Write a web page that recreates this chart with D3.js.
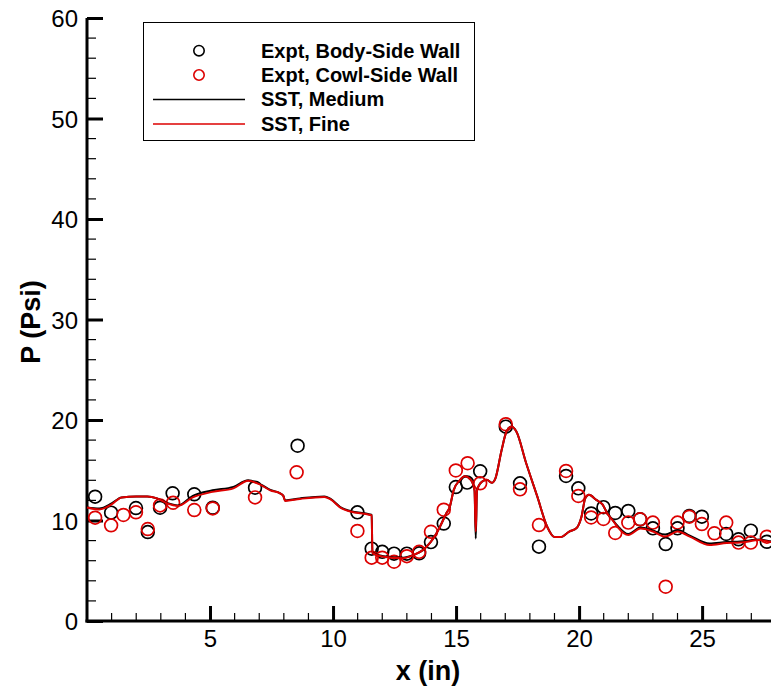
<!DOCTYPE html>
<html>
<head>
<meta charset="utf-8">
<script src="https://cdn.jsdelivr.net/npm/d3@7"></script>
<style>
  html, body { margin: 0; padding: 0; background: #fff; }
  svg { display: block; font-family: 'Liberation Sans', Arial, Helvetica, sans-serif; }
</style>
</head>
<body>
<script>
'use strict';

// 実験値 (Body-Side Wall)
const bodyX = [0.33, 0.98, 1.99, 2.47, 2.97, 3.48, 4.36, 5.11, 6.83, 8.56, 10.99, 11.57, 12.0, 12.48, 13.0, 13.5, 13.98, 14.5, 14.99, 15.45, 15.98, 17.02, 17.6, 18.37, 19.47, 19.97, 20.49, 20.99, 21.47, 22.0, 22.48, 23.0, 23.52, 24.0, 24.48, 24.99, 25.98, 26.48, 26.98, 27.63];
const bodyP = [12.37, 10.78, 11.24, 8.85, 11.27, 12.71, 12.61, 11.27, 13.26, 17.44, 10.81, 7.2, 6.88, 6.7, 6.7, 6.73, 7.85, 9.7, 13.33, 13.77, 14.9, 19.34, 13.7, 7.4, 14.43, 13.2, 10.7, 11.33, 10.75, 10.95, 10.12, 9.22, 7.66, 9.22, 10.45, 10.38, 8.66, 8.13, 8.99, 7.89];

// 実験値 (Cowl-Side Wall)
const cowlX = [0.33, 0.98, 1.48, 1.99, 2.47, 2.97, 3.5, 4.36, 5.11, 6.83, 8.52, 10.99, 11.57, 12.0, 12.48, 13.0, 13.5, 13.98, 14.5, 14.99, 15.47, 15.98, 17.02, 17.6, 18.37, 19.47, 19.97, 20.49, 20.99, 21.47, 22.0, 22.48, 23.0, 23.52, 24.0, 24.48, 24.99, 25.5, 25.98, 26.48, 26.98, 27.63];
const cowlP = [10.28, 9.52, 10.55, 10.82, 9.15, 11.5, 11.77, 11.04, 11.2, 12.3, 14.8, 8.96, 6.3, 6.3, 5.9, 6.45, 6.88, 8.88, 11.07, 14.98, 15.7, 13.7, 19.58, 13.1, 9.55, 14.93, 12.44, 10.3, 10.15, 8.76, 9.79, 10.12, 9.79, 3.41, 9.79, 10.38, 9.65, 8.73, 9.79, 7.8, 7.8, 8.39];

// SST 計算結果
const mediumX = [0.0, 0.5, 1.0, 1.4, 2.0, 2.45, 2.85, 3.25, 3.7, 4.3, 5.1, 5.95, 6.55, 7.05, 7.45, 7.85, 7.98, 8.05, 8.65, 9.65, 9.9, 10.35, 10.7, 11.5, 11.57, 11.6, 12.05, 12.85, 13.25, 13.65, 14.2, 14.35, 14.6, 14.75, 14.9, 15.15, 15.35, 15.6, 15.75, 15.8, 15.85, 16.05, 16.25, 16.45, 16.6, 16.85, 17.05, 17.25, 17.45, 17.85, 18.3, 18.7, 19.0, 19.25, 19.6, 19.9, 20.1, 20.25, 20.4, 20.7, 20.95, 21.15, 21.4, 21.55, 22.0, 22.5, 23.0, 23.5, 24.0, 24.5, 25.3, 26.0, 26.55, 27.35, 27.8];
const mediumP = [11.3, 11.2, 11.7, 12.3, 12.4, 12.4, 12.2, 11.75, 11.5, 12.45, 13.0, 13.35, 14.0, 13.6, 13.05, 12.7, 12.45, 12.0, 12.2, 12.4, 12.15, 11.25, 10.95, 10.6, 10.55, 6.8, 6.45, 6.3, 6.55, 7.05, 8.7, 9.4, 10.7, 11.4, 13.0, 14.0, 14.4, 14.05, 13.0, 8.2, 13.0, 13.85, 14.05, 13.75, 14.2, 17.0, 18.85, 19.35, 18.85, 15.7, 12.4, 9.4, 8.35, 8.35, 8.9, 9.25, 10.4, 12.2, 12.55, 12.05, 11.6, 10.7, 9.95, 9.5, 8.65, 9.3, 9.0, 8.6, 9.05, 8.5, 7.7, 7.85, 7.9, 8.1, 7.9];
const fineX = mediumX;
const fineP = [11.3, 11.1, 11.6, 12.3, 12.4, 12.4, 12.2, 11.7, 11.45, 12.3, 12.85, 13.2, 13.95, 13.55, 13.0, 12.7, 12.45, 11.95, 12.15, 12.35, 12.1, 11.2, 10.9, 10.55, 10.5, 6.75, 6.4, 6.25, 6.55, 7.05, 8.7, 9.4, 10.7, 11.4, 13.0, 14.0, 14.4, 14.05, 13.0, 8.9, 13.0, 13.85, 14.05, 13.75, 14.2, 17.0, 18.85, 19.35, 18.85, 15.7, 12.4, 9.4, 8.35, 8.35, 8.9, 9.25, 10.4, 12.2, 12.55, 12.05, 11.6, 10.7, 9.9, 9.4, 8.55, 9.2, 8.9, 8.4, 8.9, 8.4, 7.55, 7.75, 7.8, 8.05, 7.85];

// 凡例と軸ラベル
const legendLabels = ['Expt, Body-Side Wall', 'Expt, Cowl-Side Wall', 'SST, Medium', 'SST, Fine'];
const xTicks = [5, 10, 15, 20, 25];
const yTicks = [0, 10, 20, 30, 40, 50, 60];

const width = 771;
const height = 690;
const red = '#dd0000';

const svg = d3.select('body').append('svg')
    .attr('width', width)
    .attr('height', height);

const x = d3.scaleLinear().domain([0, 27.8]).range([87, 771]);
const y = d3.scaleLinear().domain([0, 60]).range([621, 18]);

// 補助目盛り
const xMinor = d3.range(1, 28).filter(d => d % 5 !== 0);
const yMinor = d3.range(2, 60, 2).filter(d => d % 10 !== 0);

svg.append('g').selectAll('line').data(xMinor).enter().append('line')
    .attr('x1', d => x(d)).attr('x2', d => x(d))
    .attr('y1', y(0)).attr('y2', y(0) - 8)
    .attr('stroke', '#000').attr('stroke-width', 1.2);
svg.append('g').selectAll('line').data(yMinor).enter().append('line')
    .attr('x1', x(0)).attr('x2', x(0) + 9)
    .attr('y1', d => y(d)).attr('y2', d => y(d))
    .attr('stroke', '#000').attr('stroke-width', 1.2);

// 主目盛り
const xAxis = svg.append('g')
    .attr('transform', `translate(0, ${y(0)})`)
    .call(d3.axisBottom(x).tickValues(xTicks).tickSizeInner(-15).tickSizeOuter(0).tickPadding(9));
const yAxis = svg.append('g')
    .attr('transform', `translate(${x(0)}, 0)`)
    .call(d3.axisLeft(y).tickValues(yTicks).tickSizeInner(-16).tickSizeOuter(0).tickPadding(9));

[xAxis, yAxis].forEach(ax => {
    ax.select('.domain').attr('stroke-width', 3).attr('stroke', '#000');
    ax.selectAll('.tick line').attr('stroke-width', 3);
    ax.selectAll('.tick text')
        .attr('font-size', 24)
        .attr('font-family', "'Liberation Sans', Arial, sans-serif")
        .attr('fill', '#000');
});
yAxis.selectAll('.tick text').attr('dy', '0.36em');
// 軸線を角で繋ぐ
xAxis.select('.domain').attr('d', `M${x(0) - 1.5},0H${width}`);
yAxis.select('.domain').attr('d', `M0,${y(0) + 1.5}V${y(60)}`);

// 軸タイトル
svg.append('text')
    .attr('x', 428).attr('y', 680)
    .attr('text-anchor', 'middle')
    .attr('font-size', 27).attr('font-weight', 'bold')
    .text('x (in)');
svg.append('text')
    .attr('transform', 'translate(40, 322) rotate(-90)')
    .attr('text-anchor', 'middle')
    .attr('font-size', 27).attr('font-weight', 'bold')
    .text('P (Psi)');

// 実験値の丸
const drawPoints = (xs, ps, color) => {
    svg.append('g').selectAll('circle').data(xs).enter().append('circle')
        .attr('cx', d => x(d))
        .attr('cy', (d, i) => y(ps[i]))
        .attr('r', 6.4)
        .attr('fill', 'none')
        .attr('stroke', color)
        .attr('stroke-width', 1.7);
};
drawPoints(bodyX, bodyP, '#000');
drawPoints(cowlX, cowlP, red);

// 計算結果の線
const drawLine = (xs, ps, color) => {
    const line = d3.line()
        .x(d => x(d[0]))
        .y(d => y(d[1]))
        .curve(d3.curveMonotoneX);
    svg.append('path')
        .datum(xs.map((d, i) => [d, ps[i]]))
        .attr('d', line)
        .attr('fill', 'none')
        .attr('stroke', color)
        .attr('stroke-width', 2);
};
drawLine(mediumX, mediumP, '#000');
drawLine(fineX, fineP, red);

// 凡例
const legend = svg.append('g');
legend.append('rect')
    .attr('x', 143.5).attr('y', 22.5)
    .attr('width', 331).attr('height', 118)
    .attr('fill', '#fff').attr('stroke', '#000').attr('stroke-width', 1);
const rowY = [50.7, 75, 99.4, 124];
const legendColors = ['#000', red, '#000', red];
legendLabels.forEach((label, i) => {
    if (i < 2) {
        legend.append('circle')
            .attr('cx', 199).attr('cy', rowY[i]).attr('r', 5.2)
            .attr('fill', 'none').attr('stroke', legendColors[i]).attr('stroke-width', 1.6);
    } else {
        legend.append('line')
            .attr('x1', 153).attr('x2', 245)
            .attr('y1', rowY[i]).attr('y2', rowY[i])
            .attr('stroke', legendColors[i]).attr('stroke-width', 1.5);
    }
    legend.append('text')
        .attr('x', 261).attr('y', rowY[i] + 7)
        .attr('font-size', 20).attr('font-weight', 'bold')
        .text(label);
});
</script>
</body>
</html>
